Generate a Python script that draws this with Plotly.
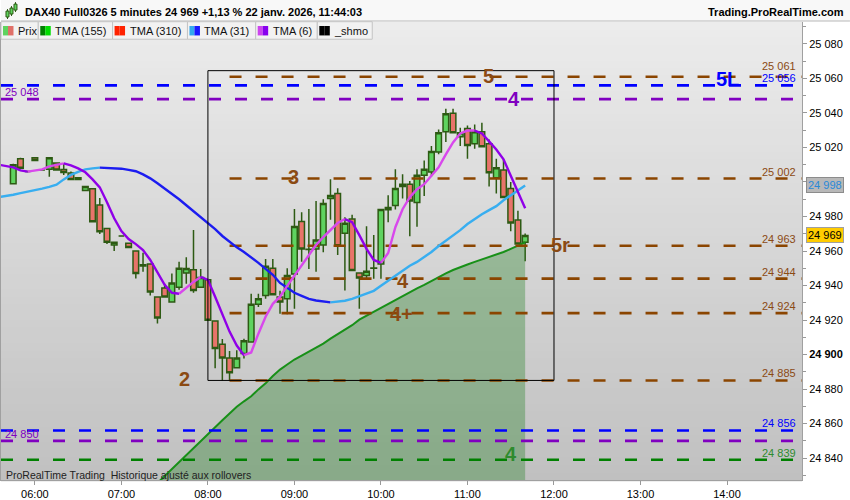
import plotly.graph_objects as go
from datetime import datetime, timedelta

# ---------------- data ----------------
session_start = datetime(2026, 1, 22, 5, 45)
bar_minutes = 5

open_ = [24999, 25013.5, 25006, 25014, 25007, 25007.3, 25011, 25007.2, 25005.2, 25001.4,
         24995, 24996, 24986.6, 24973, 24963.5, 24968.7, 24964.5, 24960, 24951.3, 24952.5,
         24933.3, 24938.5, 24930.4, 24939, 24947.3, 24949.2, 24939, 24943.3, 24919.5, 24906,
         24898, 24892.3, 24900.6, 24907.3, 24929.2, 24934.2, 24950, 24933.3, 24932.3, 24946.7,
         24977.1, 24960.8, 24961.2, 24963.5, 24990.4, 24993.3, 24970.3, 24978.5, 24947.2, 24945.8,
         24950, 24952.5, 24983.9, 24986.3, 24998.7, 24998.7, 24988.1, 25003.9, 25005.8, 25017.3,
         25029.1, 25039.8, 25026.2, 25031, 25022.2, 25029.1, 25022.2, 25002.5, 25007, 24996.2,
         24978, 24965]
high = [25010.5, 25014, 25006.5, 25014.5, 25007.5, 25014, 25011, 25010.6, 25006, 25002.5,
        24997.4, 24996, 24990.7, 24973, 24965, 24969, 24964.5, 24960, 24959, 24952.5,
        24933.3, 24941, 24947, 24953.8, 24956.4, 24972.1, 24949.6, 24943.3, 24919.5, 24909,
        24902, 24902.5, 24909.2, 24935.2, 24935.2, 24955.4, 24955.4, 24937, 24950, 24984.3,
        24982.4, 24984.3, 24989, 24990, 25001.6, 24996.4, 24979.5, 24981, 24947.2, 24974.3,
        24969.3, 24984.1, 24992.3, 25007.3, 25004.5, 25000.6, 25007.3, 25012.5, 25020.8, 25030.4,
        25042.5, 25042.5, 25031.4, 25032.7, 25033.3, 25034.3, 25024.6, 25013.5, 25013, 25000,
        24983.3, 24970.2]
low = [24998.5, 25008, 25005.5, 25012.5, 25006.5, 25003, 25007, 25004, 25001.4, 25001.4,
       24995, 24977, 24969.8, 24964, 24960, 24968.5, 24962, 24944, 24948, 24934.2,
       24918, 24933.3, 24930.4, 24937.5, 24941, 24935.8, 24939, 24919.8, 24892, 24885,
       24885, 24892.3, 24897.7, 24907.3, 24927.5, 24932.3, 24934.6, 24923.7, 24923.3, 24926.5,
       24953.8, 24949.6, 24948, 24959.3, 24978.1, 24957.7, 24937.1, 24948.7, 24926.5, 24943.9,
       24943.9, 24943.9, 24976.6, 24984, 24990.4, 24968.5, 24974, 24991.9, 25003.1, 25016,
       25023.1, 25028.5, 25020.8, 25013.5, 25019.3, 25020.4, 24997.4, 24993.3, 24991, 24971.4,
       24964, 24954]
close = [25010, 25008, 25006, 25012.5, 25007, 25014, 25007, 25005.5, 25001.4, 25002.5,
         24997.4, 24977, 24971.2, 24965, 24965, 24968.7, 24962, 24947, 24952, 24936.2,
         24921.2, 24933.3, 24941.4, 24950, 24949.8, 24937.1, 24944.6, 24919.8, 24903.5, 24898,
         24889.5, 24898, 24908, 24929.2, 24932.3, 24951.2, 24934.6, 24930.4, 24945.8, 24974.2,
         24961.2, 24961, 24966.4, 24987.5, 24992.1, 24963.1, 24976.1, 24948.7, 24944.4, 24948.3,
         24950.2, 24984.1, 24985.2, 24996.2, 24997.4, 24989, 25003.9, 25007.3, 25017.6, 25028.5,
         25039.5, 25028.5, 25028.5, 25021.2, 25029.1, 25020.4, 25005.4, 25008.3, 24991, 24976.2,
         24964, 24969]

tma6_first = -2
tma6 = [25010.0, 25009.2, 25008.5, 25006.7, 25006.0, 25006.7, 25007.3, 25009.0, 25009.9, 25010.8, 25009.6, 25007.9,
        25005.6, 25001.5, 24996.9, 24988.3, 24979.0, 24971.5, 24966.9, 24964.0, 24960.6, 24954.8,
        24947.3, 24940.4, 24935.8, 24935.2, 24938.7, 24942.1, 24945.0, 24943.3, 24933.5, 24923.1,
        24913.3, 24905.2, 24899.6, 24901.2, 24912.1, 24921.9, 24929.4, 24933.5, 24939.8, 24945.6,
        24951.3, 24957.7, 24963.5, 24968.1, 24972.1, 24976.2, 24978.5, 24976.7, 24969.2, 24961.2,
        24954.8, 24953.1, 24958.8, 24973.8, 24984.2, 24991.2, 24995.8, 24998.7, 25003.3, 25008.5,
        25016.0, 25022.9, 25028.1, 25029.8, 25029.8, 25028.1, 25023.5, 25018.8, 25013.1, 25003.8,
        24994.6, 24984.8]

tma31_first = -2
tma31 = [24991.2, 24991.7, 24992.6, 24993.5, 24994.3, 24995.2, 24996.1, 24997.2, 24998.4, 25001.5, 25004.1, 25005.9,
         25007.3, 25007.9, 25008.3, 25008.2, 25008.1, 25007.7, 25007.0, 25006.2, 25004.4, 25002.1,
         24999.2, 24996.3, 24992.9, 24990.0, 24986.5, 24983.1, 24979.6, 24976.2, 24972.7, 24968.7,
         24965.2, 24962.1, 24959.4, 24956.4, 24953.1, 24949.6, 24946.2, 24941.5, 24938.7, 24935.8,
         24934.0, 24932.3, 24931.3, 24930.6, 24930.2, 24930.5, 24931.2, 24932.3, 24933.7, 24935.2,
         24936.9, 24939.8, 24942.7, 24945.6, 24949.0, 24951.5, 24953.7, 24956.5, 24959.4, 24962.9,
         24965.8, 24968.7, 24972.1, 24975.6, 24978.5, 24981.3, 24983.7, 24986.0, 24989.4, 24992.3,
         24995.2, 24998.0]

tma155_first = 19
tma155 = [24821.5, 24825.6, 24829.6, 24833.7, 24837.7, 24841.7, 24845.8, 24849.8, 24853.8, 24857.9, 24861.9,
          24866.0, 24869.7, 24872.9, 24875.8, 24879.8, 24883.3, 24887.6, 24891.3, 24894.2, 24897.1,
          24899.4, 24901.7, 24904.0, 24906.3, 24909.2, 24911.8, 24914.4, 24917.0, 24920.2, 24922.5,
          24924.8, 24927.1, 24929.4, 24931.7, 24934.0, 24936.3, 24938.4, 24940.4, 24942.7, 24945.0,
          24947.0, 24949.0, 24950.8, 24952.2, 24953.7, 24955.1, 24956.5, 24958.0, 24959.4, 24961.2,
          24962.9, 24965.0]

# _shmo levels
level_values = [25061, 25056, 25048, 25002, 24963, 24944, 24924, 24885, 24856, 24850, 24839]
level_kind = ["brown", "blue", "purple", "brown", "brown", "brown", "brown", "brown", "blue", "purple", "green"]
level_start = [30, None, None, 30, 30, 30, 30, 30, None, None, None]

# _shmo box
box_first, box_last = 27, 75
box_top, box_bottom = 25064.5, 24885

# _shmo tags
tag_text = ["5", "4", "5L", "3", "5r", "4", "4+", "2", "4"]
tag_kind = ["brown", "purple", "blue", "brown", "brown", "brown", "brown", "brown", "green"]
tag_idx = [65.9, 69.4, 99, 38.9, 75.9, 54, 53.8, 23.8, 69]
tag_price = [25061.5, 25048.3, 25059.8, 25002.7, 24963.5, 24942.7, 24923.6, 24885.6, 24842.3]

y_tick_values = [24840, 24860, 24880, 24900, 24920, 24940, 24960, 24980, 25000, 25020, 25040, 25060, 25080]

legend_names = ["Prix", "TMA (155)", "TMA (310)", "TMA (31)", "TMA (6)", "_shmo"]
legend_colors = [("#5fd35f", "#e07068"), ("#008000", "#00dd00"), ("#ff2200", "#ff2200"),
                 ("#33aaee", "#1a1aff"), ("#cc44ee", "#8800ee"), ("#000000", "#000000")]

header_text = "DAX40 Full0326 5 minutes {} +1,13 % 22 janv. 2026, 11:44:03"
brand_text = "Trading.ProRealTime.com"
footer_text = "ProRealTime Trading  Historique ajusté aux rollovers"


# ---------------- helpers ----------------
def t(idx):
    return session_start + timedelta(minutes=bar_minutes * idx)


def fmt(v):
    return f"{int(round(v)):,}".replace(",", " ")


PL, PR, PT, PB = 0, 802, 22, 482
Y_PX_PER_PT = (PB - PT) / 265.4


def px(x):
    return (x - PL) / (PR - PL)


def py(y):
    return (PB - y) / (PB - PT)


FONT = "Liberation Sans, Arial, sans-serif"
kind_line = {"brown": "#8B4500", "blue": "#0000FF", "purple": "#8000C0", "green": "#008000"}
kind_text = {"brown": "#8B4A13", "blue": "#0000FF", "purple": "#8000C0", "green": "#2E8B2E"}

view_start = t(-1.7)
view_end = t(109.4)
y_lo, y_hi = 24827.3, 25092.7

fig = go.Figure()
shapes = []
annotations = []

# background gradient
nb = 60
top_rgb, bot_rgb = (236, 236, 236), (192, 192, 192)
for k in range(nb):
    f = (k + 0.5) / nb
    c = tuple(round(top_rgb[j] + (bot_rgb[j] - top_rgb[j]) * f) for j in range(3))
    shapes.append(dict(type="rect", xref="paper", yref="paper", x0=0, x1=1,
                       y0=1 - (k + 1) / nb - 0.003, y1=1 - k / nb,
                       fillcolor="rgb(%d,%d,%d)" % c, line=dict(width=0), layer="below"))

# TMA 155 with area
fig.add_trace(go.Scatter(x=[t(tma155_first + k) for k in range(len(tma155))], y=tma155,
                         mode="lines", line=dict(color="#189018", width=2),
                         fill="tozeroy", fillcolor="rgba(40,130,40,0.36)", hoverinfo="skip"))

# level lines
for v, kind, start in zip(level_values, level_kind, level_start):
    x0 = view_start if start is None else t(start)
    fig.add_trace(go.Scatter(x=[x0, t(118)], y=[v, v], mode="lines",
                             line=dict(color=kind_line[kind], width=2.6, dash="12px,14px"),
                             hoverinfo="skip"))

# box
shapes.append(dict(type="rect", xref="x", yref="y", x0=t(box_first), x1=t(box_last),
                   y0=box_bottom, y1=box_top, line=dict(color="black", width=1)))

# candles
fig.add_trace(go.Candlestick(
    x=[t(i) for i in range(len(open_))], open=open_, high=high, low=low, close=close,
    increasing=dict(line=dict(color="#2d5a13", width=1.5), fillcolor="#5fd35f"),
    decreasing=dict(line=dict(color="#2d5a13", width=1.5), fillcolor="#e8746a"),
    whiskerwidth=0, hoverinfo="skip"))


def runs(vals):
    segs, cur, pts = [], None, []
    for k in range(len(vals) - 1):
        d = vals[k + 1] - vals[k]
        up = (d > 0) if d != 0 else (cur if cur is not None else True)
        if up != cur:
            if pts:
                segs.append((cur, pts))
            pts = [k]
            cur = up
        pts.append(k + 1)
    segs.append((cur, pts))
    return segs


for first, vals, up_c, dn_c in [(tma31_first, tma31, "#38aef0", "#1c1cf0"),
                               (tma6_first, tma6, "#d848ec", "#9000e8")]:
    for up, pts in runs(vals):
        fig.add_trace(go.Scatter(x=[t(first + k) for k in pts], y=[vals[k] for k in pts],
                                 mode="lines", line=dict(color=up_c if up else dn_c, width=2.4),
                                 hoverinfo="skip"))

# level value labels (nudge the upper one of two close labels on the same side)
side_of = {k: ("left" if k == "purple" else "right") for k in kind_line}
for n, (v, kind) in enumerate(zip(level_values, level_kind)):
    side = side_of[kind]
    shift = 0
    for v2, k2 in zip(level_values, level_kind):
        if side_of[k2] == side and v2 < v and (v - v2) * Y_PX_PER_PT < 11:
            shift = 4
    annotations.append(dict(xref="paper", x=px(3) if side == "left" else px(797),
                            xanchor=side, yref="y", y=v, yanchor="bottom", yshift=shift,
                            text=fmt(v), showarrow=False, borderpad=0,
                            font=dict(size=11, color=kind_text[kind], family=FONT)))

# big tags
for txt, kind, idx, p in zip(tag_text, tag_kind, tag_idx, tag_price):
    annotations.append(dict(x=t(idx), y=p, xref="x", yref="y", text="<b>%s</b>" % txt, showarrow=False,
                            xanchor="center", yanchor="middle", borderpad=0,
                            font=dict(size=20, color=kind_text[kind], family=FONT)))

# price tags on the axis
annotations.append(dict(xref="paper", x=px(806), xanchor="left", yref="y", y=tma31[-1], yanchor="middle",
                        text=fmt(tma31[-1]), showarrow=False, bgcolor="#b8b8b8", bordercolor="#8c8c8c",
                        borderwidth=1, borderpad=1, font=dict(size=11, color="#2a88d8", family=FONT)))
annotations.append(dict(xref="paper", x=px(806), xanchor="left", yref="y", y=close[-1], yanchor="middle",
                        text=fmt(close[-1]), showarrow=False, bgcolor="#ffcc00", bordercolor="#a0a0a0",
                        borderwidth=1, borderpad=1, font=dict(size=11, color="black", family=FONT)))

# header
shapes.append(dict(type="rect", xref="paper", yref="paper", x0=px(0), x1=px(850), y0=py(21), y1=py(0),
                   fillcolor="#f8f8f8", line=dict(width=0)))
shapes.append(dict(type="line", xref="paper", yref="paper", x0=px(0), x1=px(850), y0=py(21), y1=py(21),
                   line=dict(color="#b8b8b8", width=1)))
# small candle icon
for cx, b0, b1, w0, w1 in [(6.5, 11, 17, 9, 19), (10.5, 8, 14, 6, 16), (14.5, 4, 10, 2, 12)]:
    shapes.append(dict(type="line", xref="paper", yref="paper", x0=px(cx), x1=px(cx), y0=py(w1), y1=py(w0),
                       line=dict(color="#2d5a13", width=1)))
    shapes.append(dict(type="rect", xref="paper", yref="paper", x0=px(cx - 1.5), x1=px(cx + 1.5),
                       y0=py(b1), y1=py(b0), fillcolor="#5fd35f", line=dict(color="#2d5a13", width=1)))
annotations.append(dict(xref="paper", yref="paper", x=px(22), y=py(11.5), xanchor="left", yanchor="middle",
                        text="<b>%s</b>" % header_text.format(fmt(close[-1])), showarrow=False,
                        font=dict(size=11, color="black", family=FONT)))
annotations.append(dict(xref="paper", yref="paper", x=px(846), y=py(11.5), xanchor="right", yanchor="middle",
                        text="<b>%s</b>" % brand_text, showarrow=False,
                        font=dict(size=11, color="black", family=FONT)))

# legend row
bounds = [0, 37.3, 111.7, 186.7, 255, 316.7, 371.7]
for k, (name, cols) in enumerate(zip(legend_names, legend_colors)):
    xa, xb = bounds[k], bounds[k + 1]
    shapes.append(dict(type="rect", xref="paper", yref="paper", x0=px(xa), x1=px(xb), y0=py(39.3), y1=py(21.7),
                       fillcolor="#f2f2f2", line=dict(color="#c4c4c4", width=1)))
    sx = xa + 2
    shapes.append(dict(type="rect", xref="paper", yref="paper", x0=px(sx), x1=px(sx + 5), y0=py(35.5), y1=py(26),
                       fillcolor=cols[0], line=dict(width=0)))
    shapes.append(dict(type="rect", xref="paper", yref="paper", x0=px(sx + 5), x1=px(sx + 10.5), y0=py(35.5), y1=py(26),
                       fillcolor=cols[1], line=dict(width=0)))
    annotations.append(dict(xref="paper", yref="paper", x=px(sx + 13), y=py(30.8), xanchor="left", yanchor="middle",
                            text=name, showarrow=False, font=dict(size=11, color="#111", family=FONT)))

# footer text
annotations.append(dict(xref="paper", yref="paper", x=px(3), y=py(476.5), xanchor="left", yanchor="middle",
                        text=footer_text, showarrow=False, font=dict(size=10.5, color="#222", family=FONT)))

# tick under the TMA(31) price tag is hidden in the original
hidden_ticks = [round(tma31[-1], -1)]
y_tick_text = [("" if v in hidden_ticks else ("<b>%s</b>" % fmt(v)) if v == 24900 else fmt(v))
               for v in y_tick_values]

fig.update_layout(
    width=850, height=500,
    margin=dict(l=PL, r=850 - PR, t=PT, b=500 - PB, pad=0),
    paper_bgcolor="white", plot_bgcolor="#d6d6d6",
    showlegend=False,
    boxgap=0.22, boxgroupgap=0,
    font=dict(family=FONT, size=11, color="black"),
    shapes=shapes, annotations=annotations,
    xaxis=dict(type="date", range=[view_start, view_end], rangeslider=dict(visible=False),
               tickformat="%H:%M", dtick=3600000, tick0=t(3), ticks="outside", ticklen=4,
               tickcolor="#999", showgrid=False, showline=True, linecolor="#a0a0a0",
               zeroline=False, tickfont=dict(size=11, color="black")),
    yaxis=dict(side="right", range=[y_lo, y_hi], tickvals=y_tick_values, ticktext=y_tick_text,
               ticks="outside", ticklen=4, tickcolor="#999", showgrid=False, showline=True,
               linecolor="#a0a0a0", mirror=True, zeroline=False, tickfont=dict(size=11, color="black"),
               minor=dict(dtick=10, tick0=24830, ticks="outside", ticklen=3, tickcolor="#999", showgrid=False)),
)

fig.write_html("out.html", config={"displayModeBar": False},
               post_script="document.body.style.margin='0';")
